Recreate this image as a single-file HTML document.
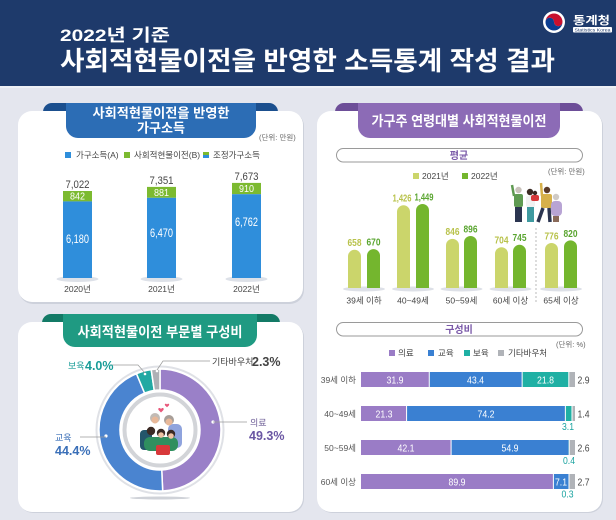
<!DOCTYPE html>
<html><head><meta charset="utf-8">
<style>
html,body{margin:0;padding:0;background:#e4e6ee;}
svg{display:block;}
text{font-family:"Liberation Sans","Noto Sans CJK KR",sans-serif;}
</style></head>
<body>
<svg width="616" height="520" viewBox="0 0 616 520" xmlns="http://www.w3.org/2000/svg">
<rect x="0" y="0" width="616" height="520" fill="#e4e6ee"/>
<!-- header -->
<rect x="0" y="0" width="616" height="86" fill="#1e3a6b"/>
<rect x="0" y="86" width="616" height="2" fill="#eef0f5"/>
<text x="60" y="41" font-size="17" font-weight="700" fill="#fff" textLength="110" lengthAdjust="spacingAndGlyphs">2022년 기준</text>
<text x="60" y="70" font-size="26" font-weight="700" fill="#fff" textLength="495" lengthAdjust="spacingAndGlyphs">사회적현물이전을 반영한 소득통계 작성 결과</text>
<!-- logo -->
<circle cx="554" cy="22" r="11" fill="#fff"/>
<path d="M545.5,22 A8.5,8.5 0 0 1 562.5,22 A4.25,4.25 0 0 1 554,22 A4.25,4.25 0 0 0 545.5,22 Z" fill="#c8102e"/>
<path d="M545.5,22 A8.5,8.5 0 0 0 562.5,22 A4.25,4.25 0 0 1 554,22 A4.25,4.25 0 0 0 545.5,22 Z" fill="#0b3d91"/>
<text x="573" y="24" font-size="11" font-weight="700" fill="#fff" textLength="37" lengthAdjust="spacingAndGlyphs">통계청</text>
<rect x="573" y="27" width="39" height="5.5" rx="1" fill="#fff"/>
<text x="592.5" y="31.5" font-size="4.5" fill="#1e3a6b" text-anchor="middle" textLength="36" lengthAdjust="spacingAndGlyphs">Statistics Korea</text>

<!-- LEFT TOP PANEL -->
<rect x="43" y="103" width="235" height="20" rx="9" fill="#1b4f8e"/>
<rect x="19" y="112" width="285" height="192" rx="14" fill="#cdd1db"/>
<rect x="18" y="111" width="285" height="191" rx="14" fill="#fff"/>
<path d="M66,103 H256 V126 A12,12 0 0 1 244,138 H78 A12,12 0 0 1 66,126 Z" fill="#2c6db5"/>
<text x="161" y="117.5" font-size="13" font-weight="700" fill="#fff" text-anchor="middle" textLength="137" lengthAdjust="spacingAndGlyphs">사회적현물이전을 반영한</text>
<text x="161" y="132.5" font-size="13" font-weight="700" fill="#fff" text-anchor="middle" textLength="48" lengthAdjust="spacingAndGlyphs">가구소득</text>
<text x="259" y="140" font-size="7.5" fill="#666">(단위: 만원)</text>
<!-- legend -->
<rect x="65" y="152" width="6" height="6" fill="#2f8edb"/>
<text x="76" y="158" font-size="8.5" fill="#444">가구소득(A)</text>
<rect x="124" y="152" width="6" height="6" fill="#7cba30"/>
<text x="134" y="158" font-size="8.5" fill="#444">사회적현물이전(B)</text>
<rect x="203" y="152" width="6" height="3" fill="#7cba30"/>
<rect x="203" y="155" width="6" height="3" fill="#2f8edb"/>
<text x="213" y="158" font-size="8.5" fill="#444">조정가구소득</text>
<!-- bars -->
<ellipse cx="77.5" cy="279" rx="21" ry="3" fill="#dde1e8"/>
<ellipse cx="161.5" cy="279" rx="21" ry="3" fill="#dde1e8"/>
<ellipse cx="246.5" cy="279" rx="21" ry="3" fill="#dde1e8"/>
<rect x="63" y="191" width="29" height="10.4" fill="#7cba30"/>
<rect x="63" y="201.4" width="29" height="76.6" fill="#2f8edb"/>
<rect x="147" y="186.9" width="29" height="10.9" fill="#7cba30"/>
<rect x="147" y="197.8" width="29" height="80.2" fill="#2f8edb"/>
<rect x="232" y="182.9" width="29" height="11.3" fill="#7cba30"/>
<rect x="232" y="194.2" width="29" height="83.8" fill="#2f8edb"/>
<g font-size="11" fill="#444" text-anchor="middle">
<text x="77.5" y="188" textLength="24" lengthAdjust="spacingAndGlyphs">7,022</text>
<text x="161.5" y="184" textLength="24" lengthAdjust="spacingAndGlyphs">7,351</text>
<text x="246.5" y="180" textLength="24" lengthAdjust="spacingAndGlyphs">7,673</text>
</g>
<g font-size="10" fill="#fff" text-anchor="middle">
<text x="77.5" y="199.7" textLength="15" lengthAdjust="spacingAndGlyphs">842</text>
<text x="161.5" y="195.9" textLength="15" lengthAdjust="spacingAndGlyphs">881</text>
<text x="246.5" y="192.1" textLength="15" lengthAdjust="spacingAndGlyphs">910</text>
</g>
<g font-size="11.5" fill="#fff" text-anchor="middle">
<text x="77.5" y="243" textLength="23" lengthAdjust="spacingAndGlyphs">6,180</text>
<text x="161.5" y="237" textLength="23" lengthAdjust="spacingAndGlyphs">6,470</text>
<text x="246.5" y="226" textLength="23" lengthAdjust="spacingAndGlyphs">6,762</text>
</g>
<g font-size="8.5" fill="#444" text-anchor="middle">
<text x="77.5" y="292">2020년</text>
<text x="161.5" y="292">2021년</text>
<text x="246.5" y="292">2022년</text>
</g>

<!-- LEFT BOTTOM PANEL -->
<rect x="42" y="314" width="238" height="18" rx="9" fill="#137a66"/>
<rect x="19" y="323" width="285" height="190" rx="14" fill="#cdd1db"/>
<rect x="18" y="322" width="285" height="190" rx="14" fill="#fff"/>
<path d="M63,314 H257 V335 A12,12 0 0 1 245,347 H75 A12,12 0 0 1 63,335 Z" fill="#1f9a82"/>
<text x="160" y="337" font-size="14" font-weight="700" fill="#fff" text-anchor="middle" textLength="165" lengthAdjust="spacingAndGlyphs">사회적현물이전 부문별 구성비</text>
<!-- donut -->
<ellipse cx="160" cy="498" rx="30" ry="1.5" fill="#cfd2d8"/>
<circle cx="160" cy="430" r="63.5" fill="none" stroke="#dfe1e6" stroke-width="2"/>
<g stroke="#fff" stroke-width="1.5">
<path d="M160,369 A61,61 0 0 1 162.68,490.94 L161.76,469.96 A40,40 0 0 0 160,390 Z" fill="#9a80c8"/>
<path d="M162.68,490.94 A61,61 0 0 1 136.48,373.72 L144.58,393.09 A40,40 0 0 0 161.76,469.96 Z" fill="#4a84d0"/>
<path d="M136.48,373.72 A61,61 0 0 1 151.22,369.64 L154.24,390.42 A40,40 0 0 0 144.58,393.09 Z" fill="#22a9a3"/>
<path d="M151.22,369.64 A61,61 0 0 1 160,369 L160,390 A40,40 0 0 0 154.24,390.42 Z" fill="#aeb0b5"/>
</g>
<circle cx="160" cy="430" r="35.5" fill="#fff" stroke="#d2d4d8" stroke-width="4"/>
<!-- illustration -->
<g>
<path d="M161,409 c-1.5,-2 -4,-0.5 -2,1.5 l2,2 l2,-2 c2,-2 -0.5,-3.5 -2,-1.5z" fill="#e8577a"/>
<path d="M167,404.5 c-1.2,-1.6 -3.2,-0.4 -1.6,1.2 l1.6,1.6 l1.6,-1.6 c1.6,-1.6 -0.4,-2.8 -1.6,-1.2z" fill="#e8577a"/>
<rect x="140" y="430" width="12" height="20" rx="4" fill="#24566b"/>
<rect x="168" y="424" width="14" height="24" rx="5" fill="#8fa3dd"/>
<circle cx="155" cy="418" r="5" fill="#c2bbb5"/>
<circle cx="155" cy="420" r="3.5" fill="#e8b899"/>
<circle cx="169" cy="420" r="5" fill="#a89f99"/>
<circle cx="169" cy="422" r="3.5" fill="#e8b899"/>
<rect x="144" y="437" width="34" height="14" rx="6" fill="#2f8f5f"/>
<rect x="156" y="445" width="14" height="10" rx="2" fill="#d8383a"/>
<circle cx="151" cy="431" r="4.2" fill="#3b2a24"/>
<circle cx="161" cy="433" r="4.2" fill="#3b2a24"/>
<circle cx="171" cy="434" r="4.2" fill="#3b2a24"/>
<circle cx="161" cy="435" r="2.8" fill="#efc3a3"/>
<circle cx="171" cy="436" r="2.8" fill="#efc3a3"/>
</g>
<g fill="#fff">
<circle cx="213" cy="422" r="1.6"/>
<circle cx="106" cy="436" r="1.6"/>
<circle cx="145" cy="374" r="1.3"/>
<circle cx="157" cy="371" r="1.3"/>
</g>
<g stroke="#9a9a9a" stroke-width="0.7" fill="none">
<path d="M213,422 H247"/>
<path d="M80,437 H106"/>
<path d="M111,365 H138 L145,373"/>
<path d="M210,361 H163 L157,370"/>
</g>
<text x="250" y="426" font-size="9" fill="#6b5b95">의료</text>
<text x="249" y="440" font-size="12.5" font-weight="700" fill="#6a56a3">49.3%</text>
<text x="55" y="441" font-size="9" fill="#3a6fb8">교육</text>
<text x="55" y="455" font-size="12.5" font-weight="700" fill="#3a6fb8">44.4%</text>
<text x="68" y="369" font-size="9" fill="#1a9d98">보육</text>
<text x="85" y="370" font-size="12.5" font-weight="700" fill="#1a9d98">4.0%</text>
<text x="212" y="365" font-size="9" fill="#444">기타바우처</text>
<text x="252" y="366" font-size="12.5" font-weight="700" fill="#444">2.3%</text>

<!-- RIGHT PANEL -->
<rect x="335" y="103" width="248" height="18" rx="9" fill="#6d4e98"/>
<rect x="318" y="112" width="285" height="401" rx="14" fill="#cdd1db"/>
<rect x="317" y="111" width="285" height="401" rx="14" fill="#fff"/>
<path d="M358,103 H560 V126 A12,12 0 0 1 548,138 H370 A12,12 0 0 1 358,126 Z" fill="#8c6bb6"/>
<text x="459" y="126" font-size="14" font-weight="700" fill="#fff" text-anchor="middle" textLength="175" lengthAdjust="spacingAndGlyphs">가구주 연령대별 사회적현물이전</text>
<rect x="336.5" y="148.5" width="246" height="13.5" rx="6.75" fill="#fff" stroke="#9a9a9a" stroke-width="1"/>
<text x="459" y="159" font-size="10" font-weight="700" fill="#7a59a8" text-anchor="middle">평균</text>
<rect x="413" y="173" width="6" height="6" fill="#cbd56b"/>
<text x="422" y="179" font-size="8.5" fill="#444">2021년</text>
<rect x="462" y="173" width="6" height="6" fill="#74b62e"/>
<text x="471" y="179" font-size="8.5" fill="#444">2022년</text>
<text x="548" y="174" font-size="7.5" fill="#666">(단위: 만원)</text>
<!-- people -->
<g>
<rect x="514" y="194" width="9" height="13" rx="2" fill="#5f9a52"/>
<rect x="515" y="207" width="7" height="15" fill="#2b3550"/>
<path d="M514,196 L512,185" stroke="#5f9a52" stroke-width="2.5"/>
<circle cx="518.5" cy="190" r="3.2" fill="#c9c2bb"/>
<rect x="526" y="196" width="9" height="11" rx="2" fill="#f1f1f1"/>
<rect x="527" y="207" width="7" height="15" fill="#3f9aa0"/>
<circle cx="530" cy="192" r="3.2" fill="#3b2a24"/>
<rect x="531" y="195" width="8" height="6" rx="2" fill="#d8383a"/>
<circle cx="535" cy="193" r="2.2" fill="#3b2a24"/>
<rect x="541" y="194" width="11" height="14" rx="2" fill="#d6b04a"/>
<path d="M543,208 L538,222 M549,208 L550,222" stroke="#2b3550" stroke-width="3.5"/>
<path d="M542,196 L541,183" stroke="#d6b04a" stroke-width="2.5"/>
<circle cx="547" cy="190" r="3.2" fill="#5a3a28"/>
<rect x="551" y="201" width="11" height="15" rx="4" fill="#b8a4d4"/>
<rect x="553" y="216" width="6" height="6" fill="#8a6a5a"/>
<circle cx="556" cy="197" r="3.2" fill="#cfcac5"/>
</g>
<!-- group shadows -->
<g fill="#dde0e7">
<ellipse cx="364" cy="289" rx="21" ry="2.5"/>
<ellipse cx="413" cy="289" rx="21" ry="2.5"/>
<ellipse cx="461.5" cy="289" rx="21" ry="2.5"/>
<ellipse cx="510.5" cy="289" rx="21" ry="2.5"/>
<ellipse cx="561" cy="289" rx="21" ry="2.5"/>
</g>
<!-- age bars -->
<g fill="#cbd56b">
<rect x="348" y="249.8" width="13" height="38.2" rx="6.5"/><rect x="348" y="257" width="13" height="31"/>
<rect x="397" y="205.3" width="13" height="82.7" rx="6.5"/><rect x="397" y="212" width="13" height="76"/>
<rect x="446" y="238.9" width="13" height="49.1" rx="6.5"/><rect x="446" y="246" width="13" height="42"/>
<rect x="495" y="247.2" width="13" height="40.8" rx="6.5"/><rect x="495" y="254" width="13" height="34"/>
<rect x="545" y="243.0" width="13" height="45" rx="6.5"/><rect x="545" y="250" width="13" height="38"/>
</g>
<g fill="#74b62e">
<rect x="367" y="249.1" width="13" height="38.9" rx="6.5"/><rect x="367" y="256" width="13" height="32"/>
<rect x="416" y="204.0" width="13" height="84" rx="6.5"/><rect x="416" y="211" width="13" height="77"/>
<rect x="464" y="236.0" width="13" height="52" rx="6.5"/><rect x="464" y="243" width="13" height="45"/>
<rect x="513" y="244.8" width="13" height="43.2" rx="6.5"/><rect x="513" y="252" width="13" height="36"/>
<rect x="564" y="240.4" width="13" height="47.6" rx="6.5"/><rect x="564" y="247" width="13" height="41"/>
</g>
<g font-size="10.5" font-weight="700" text-anchor="middle" fill="#b8c24a">
<text x="354.5" y="246" textLength="14" lengthAdjust="spacingAndGlyphs">658</text>
<text x="402" y="201.5" textLength="19" lengthAdjust="spacingAndGlyphs">1,426</text>
<text x="452.5" y="235" textLength="14" lengthAdjust="spacingAndGlyphs">846</text>
<text x="501.5" y="243.5" textLength="14" lengthAdjust="spacingAndGlyphs">704</text>
<text x="551.5" y="239.5" textLength="14" lengthAdjust="spacingAndGlyphs">776</text>
</g>
<g font-size="10.5" font-weight="700" text-anchor="middle" fill="#5aa530">
<text x="373.5" y="245.5" textLength="14" lengthAdjust="spacingAndGlyphs">670</text>
<text x="424" y="200.5" textLength="19" lengthAdjust="spacingAndGlyphs">1,449</text>
<text x="470.5" y="232.5" textLength="14" lengthAdjust="spacingAndGlyphs">896</text>
<text x="519.5" y="241" textLength="14" lengthAdjust="spacingAndGlyphs">745</text>
<text x="570.5" y="237" textLength="14" lengthAdjust="spacingAndGlyphs">820</text>
</g>
<g font-size="8.5" fill="#444" text-anchor="middle">
<text x="364" y="303.5">39세 이하</text>
<text x="413" y="303.5">40~49세</text>
<text x="461.5" y="303.5">50~59세</text>
<text x="510.5" y="303.5">60세 이상</text>
<text x="561" y="303.5">65세 이상</text>
</g>
<path d="M536,228 V302" stroke="#aaa" stroke-width="0.8" stroke-dasharray="2,2"/>

<!-- composition -->
<rect x="336.5" y="322.5" width="246" height="13.5" rx="6.75" fill="#fff" stroke="#9a9a9a" stroke-width="1"/>
<text x="459" y="333" font-size="10" font-weight="700" fill="#7a59a8" text-anchor="middle">구성비</text>
<text x="556" y="347" font-size="7.5" fill="#666">(단위: %)</text>
<rect x="389" y="350" width="6" height="6" fill="#9a7cc6"/>
<text x="398" y="356" font-size="8.5" fill="#444">의료</text>
<rect x="428" y="350" width="6" height="6" fill="#3a80d2"/>
<text x="438" y="356" font-size="8.5" fill="#444">교육</text>
<rect x="464" y="350" width="6" height="6" fill="#1fb0a4"/>
<text x="473" y="356" font-size="8.5" fill="#444">보육</text>
<rect x="498" y="350" width="6" height="6" fill="#b0b3b8"/>
<text x="508" y="356" font-size="8.5" fill="#444">기타바우처</text>

<!-- row 1 -->
<rect x="361" y="372" width="68.27" height="15" fill="#9a7cc6"/>
<rect x="429.27" y="372" width="92.88" height="15" fill="#3a80d2"/>
<rect x="522.15" y="372" width="46.65" height="15" fill="#1fb0a4"/>
<rect x="568.8" y="372" width="6.2" height="15" fill="#b0b3b8"/>
<!-- row 2 -->
<rect x="361" y="406" width="45.58" height="15" fill="#9a7cc6"/>
<rect x="406.58" y="406" width="158.79" height="15" fill="#3a80d2"/>
<rect x="565.37" y="406" width="6.63" height="15" fill="#1fb0a4"/>
<rect x="572" y="406" width="3" height="15" fill="#b0b3b8"/>
<!-- row 3 -->
<rect x="361" y="440" width="90.09" height="15" fill="#9a7cc6"/>
<rect x="451.09" y="440" width="117.49" height="15" fill="#3a80d2"/>
<rect x="568.58" y="440" width="0.86" height="15" fill="#1fb0a4"/>
<rect x="569.44" y="440" width="5.56" height="15" fill="#b0b3b8"/>
<!-- row 4 -->
<rect x="361" y="474" width="192.39" height="15" fill="#9a7cc6"/>
<rect x="553.39" y="474" width="15.19" height="15" fill="#3a80d2"/>
<rect x="568.58" y="474" width="0.64" height="15" fill="#1fb0a4"/>
<rect x="569.22" y="474" width="5.78" height="15" fill="#b0b3b8"/>
<g stroke="#fff" stroke-width="1">
<path d="M429.27,372 v15 M522.15,372 v15 M568.8,372 v15"/>
<path d="M406.58,406 v15 M565.37,406 v15 M572,406 v15"/>
<path d="M451.09,440 v15 M569.2,440 v15"/>
<path d="M553.39,474 v15 M569.0,474 v15"/>
</g>
<g font-size="8.5" fill="#555" text-anchor="end">
<text x="356" y="383">39세 이하</text>
<text x="356" y="417">40~49세</text>
<text x="356" y="451">50~59세</text>
<text x="356" y="485">60세 이상</text>
</g>
<g font-size="10.5" fill="#fff" text-anchor="middle">
<text x="395" y="383.5" textLength="17" lengthAdjust="spacingAndGlyphs">31.9</text>
<text x="475.5" y="383.5" textLength="17" lengthAdjust="spacingAndGlyphs">43.4</text>
<text x="545.5" y="383.5" textLength="17" lengthAdjust="spacingAndGlyphs">21.8</text>
<text x="384" y="417.5" textLength="17" lengthAdjust="spacingAndGlyphs">21.3</text>
<text x="486" y="417.5" textLength="17" lengthAdjust="spacingAndGlyphs">74.2</text>
<text x="406" y="451.5" textLength="17" lengthAdjust="spacingAndGlyphs">42.1</text>
<text x="510" y="451.5" textLength="17" lengthAdjust="spacingAndGlyphs">54.9</text>
<text x="457" y="485.5" textLength="17" lengthAdjust="spacingAndGlyphs">89.9</text>
<text x="561" y="485.5" textLength="12" lengthAdjust="spacingAndGlyphs">7.1</text>
</g>
<g font-size="10" fill="#444">
<text x="577.5" y="383.5" textLength="12" lengthAdjust="spacingAndGlyphs">2.9</text>
<text x="577.5" y="417.5" textLength="12" lengthAdjust="spacingAndGlyphs">1.4</text>
<text x="577.5" y="451.5" textLength="12" lengthAdjust="spacingAndGlyphs">2.6</text>
<text x="577.5" y="485.5" textLength="12" lengthAdjust="spacingAndGlyphs">2.7</text>
</g>
<g font-size="10" fill="#1aa3a0" text-anchor="middle">
<text x="568" y="430" textLength="12" lengthAdjust="spacingAndGlyphs">3.1</text>
<text x="569" y="464" textLength="12" lengthAdjust="spacingAndGlyphs">0.4</text>
<text x="567.5" y="497.5" textLength="12" lengthAdjust="spacingAndGlyphs">0.3</text>
</g>
</svg>
</body></html>
